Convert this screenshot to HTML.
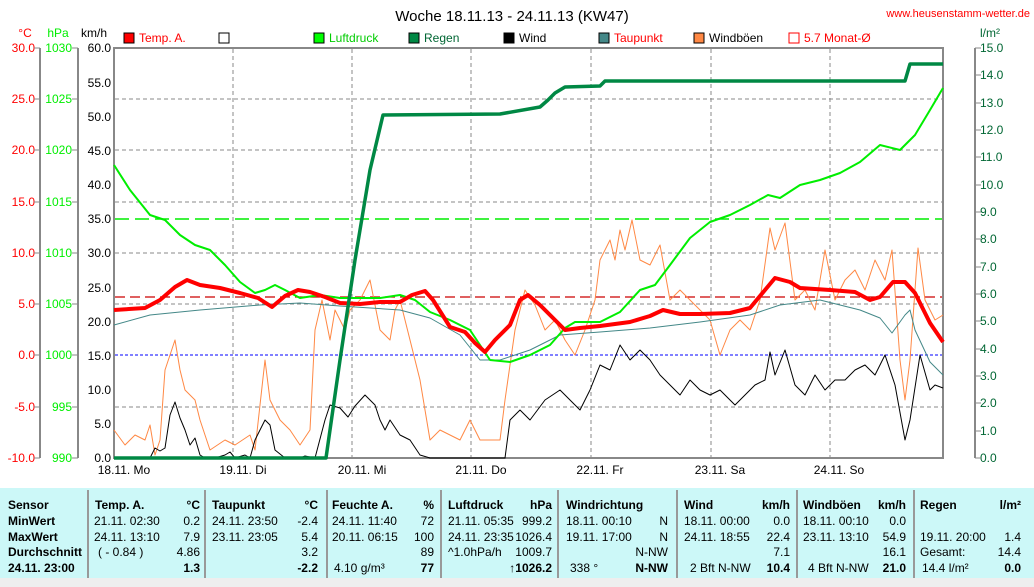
<!DOCTYPE html>
<html><head><meta charset="utf-8"><style>
body{margin:0;background:#fff;width:1034px;height:587px;overflow:hidden;font-family:"Liberation Sans",sans-serif}
svg{position:absolute;left:0;top:0}
</style></head><body>
<svg width="1034" height="587" viewBox="0 0 1034 587" font-family="Liberation Sans, sans-serif">
<rect width="1034" height="587" fill="#fff"/>
<text x="512" y="21" font-size="15" text-anchor="middle">Woche 18.11.13 - 24.11.13 (KW47)</text>
<text x="1030" y="17" font-size="11" fill="#f00" text-anchor="end">www.heusenstamm-wetter.de</text>
<!-- axis headers -->
<g font-size="12">
<text x="25" y="37" fill="#f00" text-anchor="middle">°C</text>
<text x="58" y="37" fill="#0e0" text-anchor="middle">hPa</text>
<text x="94" y="37" text-anchor="middle">km/h</text>
<text x="990" y="37" fill="#063" text-anchor="middle">l/m²</text>
</g>
<!-- legend -->
<g font-size="12">
<rect x="124" y="33" width="10" height="10" fill="#f00" stroke="#000"/><text x="139" y="42" fill="#f00">Temp. A.</text>
<rect x="219" y="33" width="10" height="10" fill="#fff" stroke="#000"/>
<rect x="314" y="33" width="10" height="10" fill="#0f0" stroke="#000"/><text x="329" y="42" fill="#0c0">Luftdruck</text>
<rect x="409" y="33" width="10" height="10" fill="#084" stroke="#000"/><text x="424" y="42" fill="#063">Regen</text>
<rect x="504" y="33" width="10" height="10" fill="#000" stroke="#000"/><text x="519" y="42">Wind</text>
<rect x="599" y="33" width="10" height="10" fill="#488" stroke="#000"/><text x="614" y="42" fill="#f00">Taupunkt</text>
<rect x="694" y="33" width="10" height="10" fill="#f84" stroke="#000"/><text x="709" y="42">Windböen</text>
<rect x="789" y="33" width="10" height="10" fill="#fff" stroke="#f00"/><text x="804" y="42" fill="#f00">5.7 Monat-Ø</text>
</g>
<!-- left axes -->
<g stroke="#888" stroke-width="2"><line x1="40" y1="48" x2="40" y2="458"/><line x1="78" y1="48" x2="78" y2="458"/>
<line x1="114" y1="47" x2="114" y2="459"/><line x1="943" y1="47" x2="943" y2="459"/><line x1="113" y1="48" x2="944" y2="48"/><line x1="113" y1="458" x2="944" y2="458"/>
<line x1="975" y1="48" x2="975" y2="458"/></g>
<g font-size="12" text-anchor="end">
<g fill="#f00">
<text x="35" y="52">30.0</text><text x="35" y="103">25.0</text><text x="35" y="154">20.0</text><text x="35" y="206">15.0</text><text x="35" y="257">10.0</text><text x="35" y="308">5.0</text><text x="35" y="359">0.0</text><text x="35" y="411">-5.0</text><text x="35" y="462">-10.0</text></g>
<g fill="#0e0">
<text x="72" y="52">1030</text><text x="72" y="103">1025</text><text x="72" y="154">1020</text><text x="72" y="206">1015</text><text x="72" y="257">1010</text><text x="72" y="308">1005</text><text x="72" y="359">1000</text><text x="72" y="411">995</text><text x="72" y="462">990</text></g>
<g>
<text x="111" y="52">60.0</text><text x="111" y="87">55.0</text><text x="111" y="121">50.0</text><text x="111" y="155">45.0</text><text x="111" y="189">40.0</text><text x="111" y="223">35.0</text><text x="111" y="257">30.0</text><text x="111" y="292">25.0</text><text x="111" y="326">20.0</text><text x="111" y="360">15.0</text><text x="111" y="394">10.0</text><text x="111" y="428">5.0</text><text x="111" y="462">0.0</text></g>
</g>
<g fill="#063" font-size="12">
<text x="980" y="52">15.0</text><text x="980" y="79">14.0</text><text x="980" y="107">13.0</text><text x="980" y="134">12.0</text><text x="980" y="161">11.0</text><text x="980" y="189">10.0</text><text x="980" y="216">9.0</text><text x="980" y="243">8.0</text><text x="980" y="271">7.0</text><text x="980" y="298">6.0</text><text x="980" y="325">5.0</text><text x="980" y="353">4.0</text><text x="980" y="380">3.0</text><text x="980" y="407">2.0</text><text x="980" y="435">1.0</text><text x="980" y="462">0.0</text>
</g>
<g stroke="#888" stroke-width="1">
<path d="M34 48h6M34 99h6M34 150h6M34 202h6M34 253h6M34 304h6M34 355h6M34 407h6M34 458h6"/>
<path d="M72 48h6M72 99h6M72 150h6M72 202h6M72 253h6M72 304h6M72 355h6M72 407h6M72 458h6"/>
<path d="M975 48h6M975 75h6M975 103h6M975 130h6M975 157h6M975 185h6M975 212h6M975 239h6M975 267h6M975 294h6M975 321h6M975 349h6M975 376h6M975 403h6M975 431h6M975 458h6"/>
</g>
<!-- grid -->
<g stroke="#888" stroke-width="1" stroke-dasharray="4,3">
<path d="M233 49V457M352 49V457M471 49V457M591 49V457M711 49V457M830 49V457"/>
<path d="M115 99H942M115 150H942M115 202H942M115 253H942M115 304H942M115 407H942"/>
</g>
<line x1="115" y1="355" x2="942" y2="355" stroke="#00f" stroke-dasharray="3,2"/>
<line x1="115" y1="219" x2="942" y2="219" stroke="#0e0" stroke-width="1.5" stroke-dasharray="14,6"/>
<line x1="115" y1="297" x2="942" y2="297" stroke="#c00" stroke-width="1.2" stroke-dasharray="10,5"/>
<!-- x labels -->
<g font-size="12" text-anchor="middle">
<text x="124" y="474">18.11. Mo</text><text x="243" y="474">19.11. Di</text><text x="362" y="474">20.11. Mi</text><text x="481" y="474">21.11. Do</text><text x="600" y="474">22.11. Fr</text><text x="720" y="474">23.11. Sa</text><text x="839" y="474">24.11. So</text>
</g>
<g fill="none" stroke-linejoin="round">
<polyline stroke="#f84" stroke-width="1" points="114,430 125,445 135,435 145,440 150,425 155,455 160,440 165,370 175,340 180,370 185,390 195,400 200,420 210,450 225,440 235,445 250,435 255,450 265,360 270,400 280,420 290,430 300,445 310,430 315,330 322,300 330,340 335,310 345,330 350,310 360,300 370,280 380,330 390,340 395,310 400,300 410,340 420,380 430,440 440,430 460,440 470,420 480,440 500,440 505,400 515,330 525,290 535,305 545,330 555,320 565,340 575,355 585,330 595,300 600,260 610,240 615,260 620,230 625,250 632,220 640,260 650,265 660,245 670,300 680,290 690,300 700,310 710,320 720,355 730,330 740,320 750,330 760,300 770,228 775,250 785,223 795,300 805,290 815,310 825,250 835,300 845,280 855,270 865,290 875,260 885,280 892,250 900,360 905,400 910,360 918,248 925,300 935,320 943,315"/>
<polyline stroke="#000" stroke-width="1" points="114,458 150,458 155,448 160,451 165,448 170,415 175,402 180,418 185,430 190,445 195,438 200,455 205,458 215,458 225,455 230,452 235,458 245,455 250,458 255,440 265,420 270,425 275,450 285,458 300,458 305,456 315,458 325,420 330,405 340,408 348,417 355,406 365,395 375,405 380,420 385,430 390,420 400,435 410,440 420,455 430,458 505,458 510,420 520,410 530,420 545,400 560,390 570,400 580,410 590,390 600,365 610,370 620,345 630,360 640,350 650,360 660,375 670,385 680,395 690,380 700,390 710,395 720,390 735,405 745,395 755,385 765,380 770,352 775,375 785,350 795,385 805,395 815,375 825,390 835,380 845,380 855,370 865,365 875,375 885,355 895,385 905,440 910,420 920,355 930,390 935,385 943,388"/>
<polyline stroke="#488" stroke-width="1" points="114,325 150,315 200,310 260,305 300,303 340,306 400,310 430,318 460,335 480,360 500,360 530,350 560,335 600,332 650,328 700,322 750,315 780,305 820,300 860,310 880,318 892,333 905,315 910,310 915,330 930,362 943,375"/>
<polyline stroke="#0e0" stroke-width="2" points="114,165 130,190 150,215 165,220 180,235 195,245 210,250 225,265 240,282 255,293 265,290 275,285 285,290 300,298 320,295 340,298 360,298 380,298 400,295 415,300 430,312 450,320 470,330 490,360 510,362 530,355 550,345 565,328 575,322 600,322 620,312 640,290 655,285 670,265 690,238 710,222 730,215 750,205 768,195 780,198 800,185 820,180 840,173 860,162 880,145 900,150 915,135 930,110 943,88"/>
<polyline stroke="#f00" stroke-width="4" points="114,310 145,308 160,300 175,287 187,280 200,285 220,288 240,293 258,298 272,307 285,296 298,290 310,292 325,297 340,303 360,304 380,302 400,302 412,295 425,291 433,300 450,327 465,332 475,343 485,352 495,340 510,325 520,300 528,295 540,305 555,320 565,330 580,328 600,326 630,322 650,316 663,310 680,314 700,314 730,313 750,308 765,290 775,278 790,282 800,288 830,290 855,292 870,300 880,297 893,282 905,282 915,293 930,323 943,342"/>
<polyline stroke="#084" stroke-width="3.5" points="114,458 326,458 340,360 355,260 370,170 383,115 500,114 540,107 548,100 555,93 565,87 600,86 605,81 700,81 905,81 910,64 943,64"/>
</g>
<!-- table -->
<rect x="0" y="488" width="1034" height="90" fill="#ccf8f8"/>
<rect x="0" y="578" width="1034" height="9" fill="#eee"/>
<g stroke="#999" stroke-width="2"><path d="M88 490V578M205 490V578M327 490V578M441 490V578M558 490V578M677 490V578M797 490V578M914 490V578"/></g>
<g font-size="12">
<g font-weight="bold"><text x="8" y="509">Sensor</text><text x="8" y="525">MinWert</text><text x="8" y="541">MaxWert</text><text x="8" y="556">Durchschnitt</text><text x="8" y="572">24.11. 23:00</text>
<text x="95" y="509">Temp. A.</text><text x="200" y="509" text-anchor="end">°C</text>
<text x="212" y="509">Taupunkt</text><text x="318" y="509" text-anchor="end">°C</text>
<text x="332" y="509">Feuchte A.</text><text x="434" y="509" text-anchor="end">%</text>
<text x="448" y="509">Luftdruck</text><text x="552" y="509" text-anchor="end">hPa</text>
<text x="566" y="509">Windrichtung</text>
<text x="684" y="509">Wind</text><text x="790" y="509" text-anchor="end">km/h</text>
<text x="803" y="509">Windböen</text><text x="906" y="509" text-anchor="end">km/h</text>
<text x="920" y="509">Regen</text><text x="1021" y="509" text-anchor="end">l/m²</text>
<text x="200" y="572" text-anchor="end">1.3</text><text x="318" y="572" text-anchor="end">-2.2</text><text x="434" y="572" text-anchor="end">77</text><text x="552" y="572" text-anchor="end">↑1026.2</text><text x="668" y="572" text-anchor="end">N-NW</text><text x="790" y="572" text-anchor="end">10.4</text><text x="906" y="572" text-anchor="end">21.0</text><text x="1021" y="572" text-anchor="end">0.0</text>
</g>
<text x="94" y="525">21.11.  02:30</text><text x="200" y="525" text-anchor="end">0.2</text>
<text x="94" y="541">24.11.  13:10</text><text x="200" y="541" text-anchor="end">7.9</text>
<text x="98" y="556">( - 0.84 )</text><text x="200" y="556" text-anchor="end">4.86</text>
<text x="212" y="525">24.11.  23:50</text><text x="318" y="525" text-anchor="end">-2.4</text>
<text x="212" y="541">23.11.  23:05</text><text x="318" y="541" text-anchor="end">5.4</text>
<text x="318" y="556" text-anchor="end">3.2</text>
<text x="332" y="525">24.11.  11:40</text><text x="434" y="525" text-anchor="end">72</text>
<text x="332" y="541">20.11.  06:15</text><text x="434" y="541" text-anchor="end">100</text>
<text x="434" y="556" text-anchor="end">89</text><text x="334" y="572">4.10 g/m³</text>
<text x="448" y="525">21.11.  05:35</text><text x="552" y="525" text-anchor="end">999.2</text>
<text x="448" y="541">24.11.  23:35</text><text x="552" y="541" text-anchor="end">1026.4</text>
<text x="448" y="556">^1.0hPa/h</text><text x="552" y="556" text-anchor="end">1009.7</text>
<text x="566" y="525">18.11.  00:10</text><text x="668" y="525" text-anchor="end">N</text>
<text x="566" y="541">19.11.  17:00</text><text x="668" y="541" text-anchor="end">N</text>
<text x="668" y="556" text-anchor="end">N-NW</text><text x="570" y="572">338 °</text>
<text x="684" y="525">18.11.  00:00</text><text x="790" y="525" text-anchor="end">0.0</text>
<text x="684" y="541">24.11.  18:55</text><text x="790" y="541" text-anchor="end">22.4</text>
<text x="790" y="556" text-anchor="end">7.1</text><text x="690" y="572">2 Bft N-NW</text>
<text x="803" y="525">18.11.  00:10</text><text x="906" y="525" text-anchor="end">0.0</text>
<text x="803" y="541">23.11.  13:10</text><text x="906" y="541" text-anchor="end">54.9</text>
<text x="906" y="556" text-anchor="end">16.1</text><text x="808" y="572">4 Bft N-NW</text>
<text x="920" y="541">19.11.  20:00</text><text x="1021" y="541" text-anchor="end">1.4</text>
<text x="920" y="556">Gesamt:</text><text x="1021" y="556" text-anchor="end">14.4</text>
<text x="922" y="572">14.4 l/m²</text>
</g>
</svg>
</body></html>
